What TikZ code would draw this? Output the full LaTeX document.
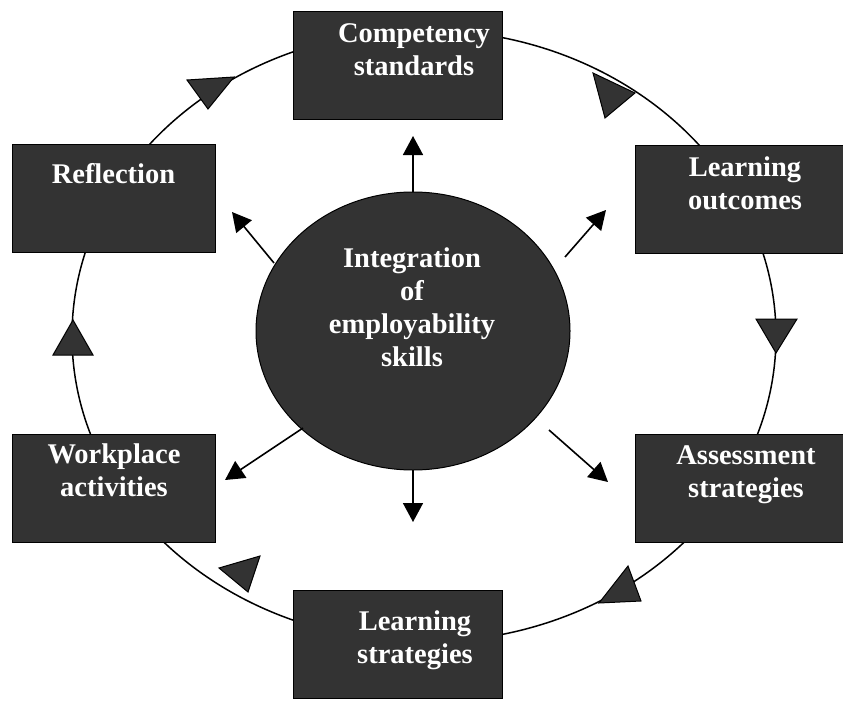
\documentclass[tikz,border=0pt]{standalone}
\usepackage{fontspec}
\setmainfont{Liberation Serif}
\usetikzlibrary{arrows.meta,shapes.geometric}
\definecolor{panel}{HTML}{333333}
\begin{document}
\begin{tikzpicture}[x=1bp,y=-1bp,
  stagebox/.style={draw=black, line width=0.8bp, fill=panel, inner sep=0,
    anchor=north west, minimum width=203bp, minimum height=108bp},
  caption/.style={text=white, font=\bfseries\fontsize{28.5bp}{33bp}\selectfont,
    align=center, inner sep=0, anchor=north},
  ring/.style={line width=1.5bp},
  flowmark/.style={draw=black, line width=1bp, fill=panel, line join=miter},
  spoke/.style={line width=1.6bp, -{Triangle[length=19bp,width=20bp]}}]
\useasboundingbox (0,0) rectangle (843,701);

% the cycle ring behind the stages
\draw[ring] (424,336) ellipse [x radius=352bp, y radius=306bp];

% direction marks on the ring
\draw[flowmark] (187,80) -- (234,77) -- (208,109) -- cycle;
\draw[flowmark] (593,73) -- (635,93) -- (605,118) -- cycle;
\draw[flowmark] (756,319) -- (797,319) -- (776,353) -- cycle;
\draw[flowmark] (628,566) -- (641,601) -- (599,603) -- cycle;
\draw[flowmark] (219,568) -- (260,556) -- (248,592) -- cycle;
\draw[flowmark] (73,320) -- (53,355) -- (93,355) -- cycle;

% stages of the cycle
\node[stagebox, minimum width=209bp] (comp) at (293,11) {};
\node[stagebox, minimum width=210bp] (lout) at (635,145) {};
\node[stagebox, minimum width=210bp] (asse) at (635,434) {};
\node[stagebox, minimum width=209bp] (lstr) at (293,590) {};
\node[stagebox] (work) at (12,434) {};
\node[stagebox] (refl) at (12,144) {};

\node[caption] (compT) at (414,18.9) {\strut Competency\\standards};
\node[caption] (loutT) at (745,152.9) {\strut Learning\\outcomes};
\node[caption] (asseT) at (746,440.9) {\strut Assessment\\strategies};
\node[caption] (lstrT) at (415,606.9) {\strut Learning\\strategies};
\node[caption] (workT) at (114,439.9) {\strut Workplace\\activities};
\node[caption] (reflT) at (113.5,159.9) {\strut Reflection};

% central hub
\node[ellipse, draw=black, line width=1bp, fill=panel, minimum width=314bp,
  minimum height=278bp, inner sep=0] (hub) at (413,331) {};
\node[caption] (hubT) at (412,243.9) {\strut Integration\\of\\employability\\skills};

% spokes leaving the hub
\coordinate (sN)  at (413,192); \coordinate (tN)  at (413,136);
\coordinate (sNE) at (565,257); \coordinate (tNE) at (606,210);
\coordinate (sNW) at (274,263); \coordinate (tNW) at (232,212);
\coordinate (sSW) at (303,428); \coordinate (tSW) at (225,480);
\coordinate (sSE) at (549,430); \coordinate (tSE) at (608,482);
\coordinate (sS)  at (413,470); \coordinate (tS)  at (413,522);
\foreach \d in {N,NE,NW,SW,SE,S}
  \draw[spoke] (s\d) -- (t\d);
\end{tikzpicture}
\end{document}
